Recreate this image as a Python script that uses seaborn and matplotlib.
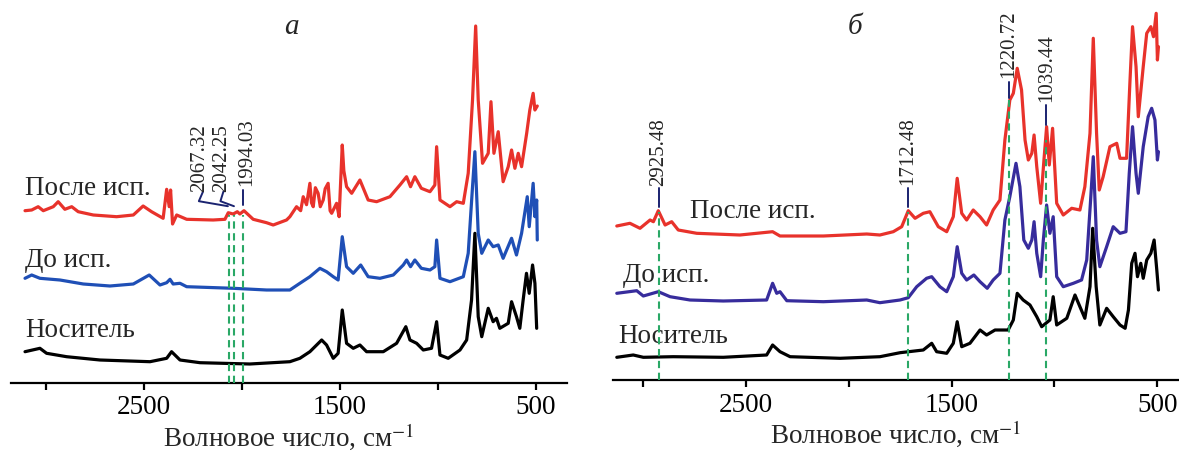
import pandas as pd
import seaborn as sns
import matplotlib.pyplot as plt

sns.set_style('white')
plt.rcParams['font.family'] = ['Liberation Serif', 'DejaVu Serif']
plt.rcParams['mathtext.fontset'] = 'stix'

# ---- панель а: волновое число (см-1) и интенсивность (усл. ед., со сдвигом) ----
a_after_wn = [3105, 3071, 3038, 3012, 2961, 2936, 2902, 2867, 2834, 2757, 2638, 2553, 2503, 2460,
              2401, 2383, 2370, 2363, 2353, 2332, 2281, 2146, 2086, 2069, 2044, 2023, 2010, 1989,
              1942, 1874, 1840, 1772, 1755, 1721, 1700, 1687, 1670, 1653, 1645, 1636, 1625, 1611,
              1600, 1585, 1575, 1560, 1550, 1542, 1517, 1504, 1488, 1480, 1466, 1440, 1398, 1356,
              1313, 1245, 1194, 1160, 1140, 1118, 1085, 1041, 1016, 1007, 990, 939, 905, 871, 846,
              824, 808, 795, 773, 744, 730, 715, 693, 668, 642, 625, 608, 591, 574, 548, 532, 515,
              506, 494]
a_after = [172, 172.7, 176, 172, 176, 181, 173.4, 176, 171, 167.7, 166, 167.7, 176.7, 171,
           164.4, 193.4, 176, 192.7, 158.7, 167.7, 163.4, 162.7, 163.4, 170, 168.7, 171, 168.7, 172,
           163.4, 160, 157.7, 162.7, 166, 176, 172, 186, 178, 199.4, 180, 176, 195, 189.4,
           176, 182.7, 194, 199.4, 172, 169.4, 179.4, 166, 237.7, 212, 196, 189.4, 202.7, 182.7,
           181, 186, 197.7, 206, 196, 206, 194.4, 191, 197.7, 236, 182.7, 176, 181, 179.4, 209.4,
           282.7, 356.7, 282.7, 219.4, 229.4, 281, 229.4, 251, 201, 216, 232.7, 214.4, 229.4, 216,
           249.4, 272.7, 289.4, 272.7, 276.7]

a_before_wn = [3105, 3071, 3029, 2927, 2808, 2672, 2553, 2472, 2417, 2383, 2366, 2350, 2315, 2281,
               2044, 1874, 1755, 1704, 1653, 1602, 1568, 1534, 1509, 1488, 1466, 1432, 1394, 1356,
               1296, 1228, 1177, 1160, 1140, 1118, 1085, 1041, 1016, 1007, 990, 939, 871, 846, 824,
               812, 795, 777, 744, 719, 693, 668, 625, 600, 574, 545, 535, 515, 506, 497, 494]
a_before = [104.4, 107.7, 104.4, 102.7, 98.7, 96.7, 98.7, 107.7, 97.7, 100, 103.4, 98.7, 99.4, 96,
            94.4, 92.7, 92.7, 99.4, 106, 114.4, 111, 106, 102.7, 146, 116, 109.4, 117.7, 106,
            104.4, 107.7, 117.7, 122.7, 116, 122.7, 114.4, 112.7, 116, 142.7, 104.4, 101, 106, 129.4,
            196, 231, 149.4, 129.4, 142.7, 136, 137.7, 124.4, 144.4, 127.7, 149.4, 186, 156, 199.4,
            166, 182.7, 142.7]

a_support_wn = [3105, 3029, 2995, 2893, 2723, 2468, 2383, 2358, 2315, 2213, 1959, 1755, 1704, 1653,
                1593, 1568, 1534, 1509, 1488, 1466, 1432, 1398, 1364, 1279, 1211, 1164, 1143, 1109,
                1075, 1033, 1007, 990, 948, 888, 854, 829, 812, 795, 777, 744, 719, 702, 685, 642,
                625, 600, 583, 566, 549, 535, 518, 506, 497]
a_support = [31, 34.4, 29.4, 26, 22.7, 21, 24.4, 31, 22.7, 20, 18.7, 21, 24.4, 31,
             42.7, 37.7, 24.4, 29.4, 72.7, 39.4, 34.4, 37.7, 31, 31, 39.4, 56, 42.7, 39.4,
             32.7, 34.4, 61, 27.7, 24.4, 32.7, 42.7, 82.7, 149.4, 66, 46, 74.4, 61, 64.4, 54.4, 59.4,
             81, 66, 54.4, 82.7, 109.4, 89.4, 117.7, 99.4, 54.4]

# ---- панель б ----
b_after_wn = [3129, 3065, 3016, 2967, 2951, 2927, 2894, 2862, 2830, 2740, 2530, 2371, 2335, 2124,
              1913, 1849, 1784, 1743, 1711, 1678, 1638, 1606, 1565, 1524, 1492, 1473, 1451, 1427,
              1395, 1362, 1330, 1298, 1265, 1241, 1217, 1200, 1181, 1160, 1143, 1127, 1110, 1099,
              1086, 1067, 1051, 1038, 1025, 1009, 989, 957, 916, 876, 852, 827, 811, 795, 782, 763,
              730, 697, 681, 649, 633, 620, 603, 592, 568, 551, 531, 518, 505, 499, 494]
b_after = [154, 156.7, 151.7, 160, 158.3, 169.3, 155, 158.3, 150, 146.7, 145, 148.3, 144, 144,
           146, 145, 148.3, 153.3, 169.3, 161.7, 166.7, 168.3, 153.3, 148.3, 163.3, 201.7, 166.7, 160,
           170, 163.3, 155, 170, 180, 240, 280, 286.7, 311.7, 290, 240, 220, 226.7, 245,
           213.3, 176.7, 220, 253.3, 215, 251.7, 176.7, 165, 171.7, 170, 193.3, 246.7, 341.7, 246.7,
           190, 203.3, 233.3, 236.7, 221.7, 221.7, 296.7, 353.3, 313.3, 263.3, 313.3, 346.7, 353.3,
           343.3, 366.7, 320, 333.3]

b_before_wn = [3129, 3032, 3000, 2927, 2870, 2773, 2611, 2400, 2371, 2351, 2335, 2302, 2124, 1913,
               1849, 1751, 1711, 1670, 1622, 1597, 1557, 1524, 1492, 1473, 1451, 1427, 1392, 1362,
               1327, 1298, 1265, 1241, 1217, 1187, 1168, 1149, 1127, 1110, 1099, 1086, 1067, 1054,
               1038, 1022, 1006, 989, 957, 908, 868, 843, 824, 811, 795, 779, 746, 714, 681, 652,
               636, 620, 603, 592, 568, 544, 527, 511, 499, 494]
b_before = [86.7, 89.3, 84, 88.3, 83.3, 80, 79, 80, 96.7, 86.7, 88.3, 79.3, 78.3, 80,
            77.3, 80, 82.3, 93.3, 101.7, 103.3, 93.3, 88.3, 103.3, 133.3, 106.7, 100, 105, 98.3,
            91.7, 100, 106.7, 160, 183.3, 216.7, 193.3, 140, 131.7, 140, 158.3, 126.7, 103.3, 140,
            175, 146.7, 163.3, 103.3, 93.3, 96.7, 100, 120, 180, 223.3, 140, 113.3, 133.3, 153.3,
            146.7, 148.3, 206.7, 253.3, 206.7, 186.7, 233.3, 263.3, 271.7, 260, 220, 228.3]

b_support_wn = [3129, 3049, 3000, 2854, 2611, 2400, 2371, 2335, 2286, 2043, 1849, 1751, 1638, 1597,
                1573, 1524, 1492, 1473, 1451, 1411, 1362, 1330, 1289, 1225, 1200, 1181, 1152, 1119,
                1086, 1062, 1022, 1006, 989, 940, 900, 876, 852, 827, 814, 797, 779, 746, 714, 681,
                656, 640, 624, 608, 596, 580, 568, 551, 531, 515, 502, 494]
b_support = [22.7, 25, 22.7, 23.3, 22.7, 25, 35, 28.3, 23.3, 21.7, 23.3, 27.3, 30, 36.7,
             28.3, 26.7, 36.7, 58.3, 33.3, 36.7, 50, 45, 50, 50, 60, 86.7, 80, 75,
             63.3, 53.3, 60, 83.3, 55, 61.7, 85, 73.3, 61.7, 93.3, 151.7, 93.3, 55, 71.7, 63.3, 55,
             51.7, 70, 116.7, 126.7, 103.3, 116.7, 101.7, 120, 126.7, 140, 110, 90]

series_names = ['После исп.', 'До исп.', 'Носитель']
ticks = [3000, 2500, 2000, 1500, 1000, 500]
tick_labels = ['', '2500', '', '1500', '', '500']

# отмеченные пики
a_peaks = ['2067.32', '2042.25', '1994.03']
b_peaks = ['2925.48', '1712.48', '1220.72', '1039.44']

RED = '#e8322b'
BLUE_A = '#1f4fb6'
BLUE_B = '#372c9c'
GREEN = '#2aa866'
NAVY = '#1a2370'

W, H = 1179, 451
fig = plt.figure(figsize=(W / 100, H / 100), dpi=100)
ax_a = fig.add_axes([10.7 / W, (H - 382.7) / H, 556 / W, 382.7 / H])
ax_b = fig.add_axes([613.3 / W, (H - 380) / H, (W - 613.3) / W, 380 / H])


def draw_panel(ax, traces, xlim, ytop):
    for wn, val, color in traces:
        df = pd.DataFrame({'wn': wn, 'val': val})
        sns.lineplot(data=df, x='wn', y='val', color=color, lw=2.3,
                     estimator=None, sort=False, ax=ax, zorder=2)
    ax.set_xlim(*xlim)
    ax.set_ylim(0, ytop)
    ax.set_xticks(ticks)
    ax.set_xticklabels(tick_labels, fontsize=19.5)
    ax.set_yticks([])
    ax.set_ylabel('')
    ax.set_xlabel('Волновое число, см$^{-1}$', fontsize=19.5, labelpad=0.5)
    for s in ['top', 'left', 'right']:
        ax.spines[s].set_visible(False)
    ax.spines['bottom'].set_linewidth(1.6)
    ax.spines['bottom'].set_color('black')
    ax.tick_params(axis='x', bottom=True, direction='out', length=5, width=1.6,
                   pad=4, colors='black')
    ax.patch.set_alpha(0)


draw_panel(ax_a, [(a_after_wn, a_after, RED), (a_before_wn, a_before, BLUE_A),
                  (a_support_wn, a_support, 'black')], (3178, 344), 382.7)
draw_panel(ax_b, [(b_after_wn, b_after, RED), (b_before_wn, b_before, BLUE_B),
                  (b_support_wn, b_support, 'black')], (3146, 394), 380)

# подписи кривых
for ax, pos in [(ax_a, [(3105, 187.7), (3105, 116), (3105, 46)]),
                (ax_b, [(2773, 161.7), (3097, 98.3), (3122, 36.7)])]:
    for name, (x, y) in zip(series_names, pos):
        ax.text(x, y, name, fontsize=19.5, ha='left', va='baseline')

dash = (0, (3.5, 2.2))

# панель а: пики с выносками
a_text_x = [2214, 2102, 1976]
a_text_y = [191, 191, 197]
a_leaders = [[(2198, 191), (2219, 181.5), (2071, 176.5)],
             [(2094, 191), (2109, 181.5), (2040, 176.5)],
             [(1993, 193), (1993, 177.5)]]
for lab, tx, ty, lead in zip(a_peaks, a_text_x, a_text_y, a_leaders):
    p = float(lab)
    ax_a.plot([p, p], [0, 167.7], ls=dash, color=GREEN, lw=1.5, zorder=3)
    ax_a.plot([q[0] for q in lead], [q[1] for q in lead], color=NAVY, lw=1.4, zorder=3)
    ax_a.text(tx, ty, lab, rotation=90, fontsize=15, ha='center', va='bottom')

# панель б
b_line_top = [168.3, 168, 280, 240]
b_tick_y = [(173, 192), (173, 192), (282, 298), (255, 275)]
b_text_y = [194, 195, 302, 278]
for lab, top, (t0, t1), ty in zip(b_peaks, b_line_top, b_tick_y, b_text_y):
    p = float(lab)
    ax_b.plot([p, p], [0, top], ls=dash, color=GREEN, lw=1.5, zorder=3)
    ax_b.plot([p, p], [t0, t1], color=NAVY, lw=1.4, zorder=3)
    ax_b.text(p, ty, lab, rotation=90, fontsize=15, ha='center', va='bottom')

fig.text(291 / W, 1 - 27 / H, 'а', fontsize=21, style='italic', ha='center', va='center')
fig.text(855 / W, 1 - 27 / H, 'б', fontsize=21, style='italic', ha='center', va='center')

fig.savefig('out.png', dpi=100)
